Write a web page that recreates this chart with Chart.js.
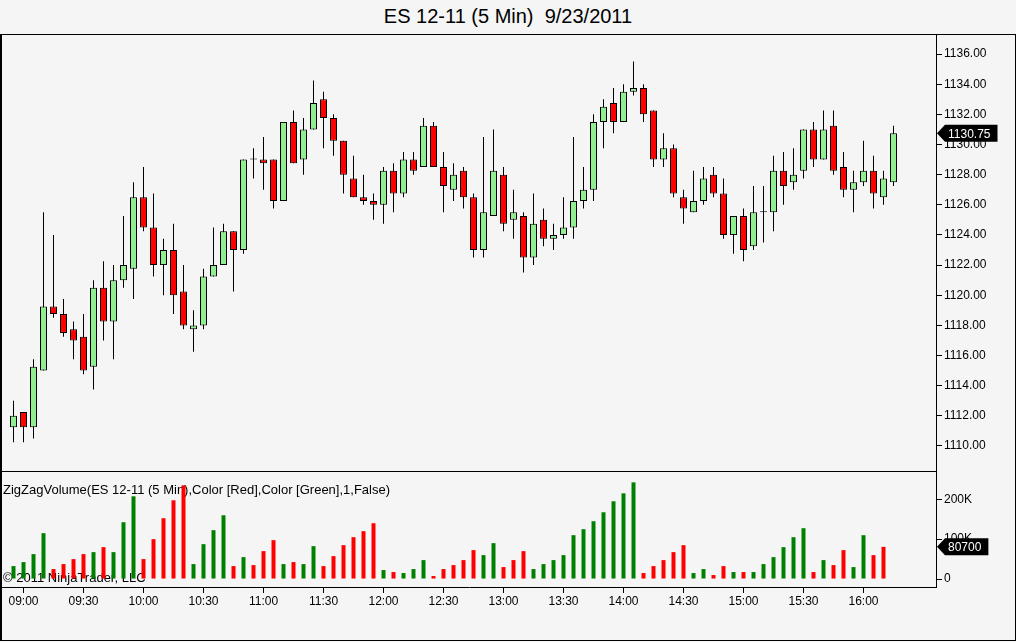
<!DOCTYPE html>
<html>
<head>
<meta charset="utf-8">
<title>ES 12-11 (5 Min) 9/23/2011</title>
<script src="https://cdn.jsdelivr.net/npm/chart.js"></script>
<style>
    body { margin: 0; background: #f5f5f5; }
    #wrap { position: relative; width: 1016px; height: 642px; overflow: hidden; }
    #title { position: absolute; left: 0; top: 5px; width: 1016px; text-align: center; white-space: pre;
             font: 20px 'Liberation Sans', Arial, sans-serif; line-height: 22px; color: #000; }
    #frame { position: absolute; left: 0; top: 34px; width: 1013px; height: 605px;
             border: 1px solid #000; border-left-width: 2px; }
    canvas { position: absolute; left: 0; }
</style>
</head>
<body>
<div id="wrap">
    <div id="title">ES 12-11 (5 Min)  9/23/2011</div>
    <div id="frame"></div>
    <canvas id="priceChart" width="1016" height="437" style="top:34px"></canvas>
    <canvas id="volumeChart" width="1016" height="145" style="top:471px"></canvas>
</div>
<script>
// 5 minute bars, stamped at bar close
let times = [
    '08:55',
    '09:00','09:05','09:10','09:15','09:20','09:25','09:30','09:35','09:40','09:45','09:50','09:55',
    '10:00','10:05','10:10','10:15','10:20','10:25','10:30','10:35','10:40','10:45','10:50','10:55',
    '11:00','11:05','11:10','11:15','11:20','11:25','11:30','11:35','11:40','11:45','11:50','11:55',
    '12:00','12:05','12:10','12:15','12:20','12:25','12:30','12:35','12:40','12:45','12:50','12:55',
    '13:00','13:05','13:10','13:15','13:20','13:25','13:30','13:35','13:40','13:45','13:50','13:55',
    '14:00','14:05','14:10','14:15','14:20','14:25','14:30','14:35','14:40','14:45','14:50','14:55',
    '15:00','15:05','15:10','15:15','15:20','15:25','15:30','15:35','15:40','15:45','15:50','15:55',
    '16:00','16:05','16:10','16:15'
];

let opens = [
    1111.25,1112.25,1111.25,1115.0,1119.25,1118.75,1117.75,1117.25,1115.25,1120.5,
    1118.25,1121.0,1121.75,1126.5,1124.5,1122.0,1123.0,1120.25,1117.75,1118.0,
    1121.25,1122.0,1124.25,1123.0,1129.0,1129.0,1129.0,1126.25,1131.5,1129.0,
    1131.0,1133.0,1131.75,1130.25,1127.75,1126.5,1126.25,1126.0,1128.25,1126.75,
    1129.0,1128.5,1131.25,1128.5,1127.0,1128.25,1126.5,1123.0,1125.25,1128.0,
    1125.0,1125.25,1122.5,1125.0,1123.75,1124.0,1124.5,1126.25,1127.0,1131.5,
    1132.75,1131.5,1133.5,1133.75,1132.25,1129.0,1129.75,1126.5,1125.5,1126.25,
    1128.0,1126.75,1124.0,1125.25,1123.25,1125.5,1125.5,1128.25,1127.5,1128.25,
    1131.0,1129.0,1131.25,1128.5,1127.0,1127.5,1128.25,1126.5,1127.5
];
let highs = [
    1113.0,1112.25,1115.75,1125.5,1124.0,1119.75,1118.25,1118.75,1121.0,1122.25,
    1122.0,1125.25,1127.5,1128.5,1126.75,1123.75,1124.75,1122.0,1119.0,1121.75,
    1124.5,1124.75,1124.25,1129.0,1129.75,1130.5,1129.0,1131.5,1132.25,1131.75,
    1134.25,1133.5,1132.0,1130.25,1129.25,1128.0,1126.75,1128.5,1128.75,1129.5,
    1129.5,1131.75,1131.5,1129.5,1128.75,1128.5,1126.75,1130.5,1131.0,1128.5,
    1127.0,1125.5,1126.75,1125.75,1124.75,1126.5,1130.5,1128.5,1132.0,1133.0,
    1133.75,1134.0,1135.5,1134.0,1132.25,1130.75,1130.0,1127.0,1128.25,1128.5,
    1128.5,1127.75,1125.25,1125.75,1127.25,1127.25,1129.25,1129.5,1129.75,1131.0,
    1131.5,1132.25,1132.25,1129.5,1128.25,1130.25,1129.25,1128.25,1131.25
];
let lows = [
    1110.25,1110.25,1110.5,1115.0,1118.5,1117.25,1115.75,1114.75,1113.75,1117.0,
    1115.75,1120.5,1119.75,1124.25,1121.25,1120.0,1118.75,1117.75,1116.25,1117.75,
    1121.25,1122.0,1120.25,1122.75,1127.75,1127.0,1125.75,1126.25,1128.75,1128.0,
    1131.0,1129.75,1129.25,1126.75,1126.5,1126.0,1125.0,1124.75,1125.5,1126.5,
    1128.0,1128.5,1128.5,1125.5,1126.25,1125.75,1122.5,1122.5,1125.25,1124.25,
    1123.75,1121.5,1122.0,1123.25,1123.0,1123.75,1123.75,1125.75,1126.25,1129.75,
    1130.75,1131.5,1133.25,1131.5,1128.5,1128.5,1126.5,1124.75,1125.5,1126.0,
    1126.5,1123.75,1122.75,1122.25,1123.0,1123.5,1124.25,1126.0,1127.0,1127.75,
    1128.5,1129.0,1128.0,1126.5,1125.5,1127.25,1125.75,1126.0,1127.25
];
let closes = [
    1112.0,1111.25,1115.25,1119.25,1118.75,1117.5,1117.0,1115.0,1120.5,1118.25,
    1121.0,1122.0,1126.5,1124.5,1122.0,1123.0,1120.0,1118.0,1118.0,1121.25,
    1122.0,1124.25,1123.0,1129.0,1129.0,1128.75,1126.25,1131.5,1128.75,1131.0,
    1132.75,1131.75,1130.25,1128.0,1126.5,1126.25,1126.0,1128.25,1126.75,1129.0,
    1128.25,1131.25,1128.5,1127.25,1128.0,1126.5,1123.0,1125.5,1128.25,1124.75,
    1125.5,1122.5,1124.75,1123.75,1124.0,1124.5,1126.25,1127.0,1131.5,1132.5,
    1131.5,1133.5,1133.75,1132.0,1129.0,1129.75,1126.75,1125.75,1126.25,1127.75,
    1126.75,1124.0,1125.25,1123.0,1125.5,1125.5,1128.25,1127.25,1128.0,1131.0,
    1129.0,1131.0,1128.25,1127.0,1127.5,1128.25,1126.75,1127.75,1130.75
];

// ZigZagVolume, plotted on bar close (no value yet for the last bar)
let volumes = [
    32500,42500,62500,115000,25000,37500,50000,62500,67500,80000,
    67500,142500,207500,50000,100000,152500,197500,235000,37500,87500,
    122500,160000,32500,55000,35000,70000,97500,37500,42500,37500,
    82500,32500,57500,85000,105000,120000,140000,22500,17500,15000,
    25000,47500,7500,25000,35000,47500,72500,60000,90000,30000,
    47500,70000,25000,37500,47500,60000,110000,125000,145000,167500,
    195000,215000,242500,15000,32500,47500,67500,85000,15000,25000,
    10000,32500,17500,17500,17500,37500,55000,80000,105000,127500,
    17500,47500,35000,72500,30000,110000,60000,80700
];
// 1 = up swing (green), -1 = down swing (red)
let volumeDir = [
    1,1,1,1,-1,-1,-1,-1,1,-1,
    1,1,1,-1,-1,-1,-1,-1,1,1,
    1,1,-1,1,-1,-1,-1,1,-1,1,
    1,-1,-1,-1,-1,-1,-1,1,-1,1,
    1,1,-1,-1,-1,-1,-1,1,1,-1,
    -1,-1,1,1,1,1,1,1,1,1,
    1,1,1,-1,-1,-1,-1,-1,1,1,
    -1,-1,1,-1,1,1,1,1,1,1,
    -1,1,-1,-1,1,1,-1,-1
];

let priceTicks = [1110, 1112, 1114, 1116, 1118, 1120, 1122, 1124, 1126, 1128, 1130, 1132, 1134, 1136];
let volumeTicks = [0, 100000, 200000];

const FONT = "'Liberation Sans', Arial, sans-serif";
const UP_COLOR = '#90ee90';
const DOWN_COLOR = '#ff0000';

// shared x range so both panels line up bar for bar
const X_MIN = -1.15;
const X_MAX = 92.25;

let timeTicks = [];
for (let i = 0; i < times.length; i++) {
    if (times[i].endsWith(':00') || times[i].endsWith(':30')) timeTicks.push(i);
}

let wickData = [];
let bodyData = [];
let bodyColors = [];
for (let i = 0; i < opens.length; i++) {
    wickData.push({x: i, y: [lows[i], highs[i]]});
    bodyData.push({x: i, y: [opens[i], closes[i]]});
    bodyColors.push(closes[i] >= opens[i] ? UP_COLOR : DOWN_COLOR);
}
let volData = volumes.map((v, i) => ({x: i, y: v}));
let volColors = volumeDir.map(d => d > 0 ? '#008000' : '#ff0000');

// black arrow tag with the last value, sitting on the right axis
const lastValueTag = {
    id: 'lastValueTag',
    afterDraw(chart, args, opts) {
        if (!opts || opts.value === undefined) return;
        let ctx = chart.ctx;
        let y = chart.scales.y.getPixelForValue(opts.value);
        let x0 = chart.chartArea.right + 1;
        ctx.save();
        ctx.font = '12px ' + FONT;
        let w = ctx.measureText(opts.text).width + 18;
        ctx.fillStyle = '#000';
        ctx.beginPath();
        ctx.moveTo(x0, y);
        ctx.lineTo(x0 + 8, y - 8.5);
        ctx.lineTo(x0 + w, y - 8.5);
        ctx.lineTo(x0 + w, y + 8.5);
        ctx.lineTo(x0 + 8, y + 8.5);
        ctx.closePath();
        ctx.fill();
        ctx.fillStyle = '#fff';
        ctx.textAlign = 'left';
        ctx.textBaseline = 'middle';
        ctx.fillText(opts.text, x0 + 11, y + 1);
        ctx.restore();
    }
};

// indicator caption + copyright, drawn under the volume bars
const panelText = {
    id: 'panelText',
    beforeDatasetsDraw(chart) {
        let ctx = chart.ctx;
        ctx.save();
        ctx.font = '13px ' + FONT;
        ctx.fillStyle = '#000';
        ctx.textAlign = 'left';
        ctx.textBaseline = 'middle';
        ctx.fillText('ZigZagVolume(ES 12-11 (5 Min),Color [Red],Color [Green],1,False)', 3, 19);
        ctx.fillText('\u00a9 2011 NinjaTrader, LLC', 3, 107);
        ctx.restore();
    },
    afterDraw(chart) {
        // separator between price and volume panels
        let ctx = chart.ctx;
        ctx.save();
        ctx.strokeStyle = '#000';
        ctx.lineWidth = 1;
        ctx.beginPath();
        ctx.moveTo(0, 0.5);
        ctx.lineTo(chart.chartArea.right, 0.5);
        ctx.stroke();
        ctx.restore();
    }
};

function rightAxis(min, max, ticks, fmt) {
    return {
        type: 'linear',
        position: 'right',
        min: min,
        max: max,
        beginAtZero: false,
        afterBuildTicks: (scale) => { scale.ticks = ticks.map(v => ({value: v})); },
        afterFit: (scale) => { scale.width = 80; scale.paddingTop = 0; scale.paddingBottom = 0; },
        grid: { drawOnChartArea: false, drawTicks: true, tickLength: 6, color: '#000' },
        border: { display: true, color: '#000', width: 1 },
        ticks: { padding: 2, color: '#000', font: { family: FONT, size: 12 }, callback: fmt }
    };
}

let commonOptions = {
    responsive: false,
    animation: false,
    devicePixelRatio: 1,
    events: [],
    layout: { padding: { left: 2, right: 0, top: 0, bottom: 0 } },
    plugins: { legend: { display: false }, tooltip: { enabled: false } }
};

let priceChart = new Chart(document.getElementById('priceChart').getContext('2d'), {
    type: 'bar',
    data: {
        datasets: [{
            label: 'body',
            data: bodyData,
            backgroundColor: bodyColors,
            borderColor: '#000',
            borderWidth: 1,
            borderSkipped: false,
            inflateAmount: 0,
            barThickness: 7,
            minBarLength: 1,
            grouped: false,
            order: 0
        }, {
            label: 'wick',
            data: wickData,
            backgroundColor: '#000',
            borderWidth: 0,
            inflateAmount: 0,
            barThickness: 1,
            grouped: false,
            order: 1
        }]
    },
    options: Object.assign({}, commonOptions, {
        plugins: Object.assign({}, commonOptions.plugins, {
            lastValueTag: { value: closes[closes.length - 1], text: closes[closes.length - 1].toFixed(2) }
        }),
        scales: {
            x: { type: 'linear', min: X_MIN, max: X_MAX, display: false, offset: false, grid: { offset: false } },
            y: rightAxis(1108.34, 1137.33, priceTicks, v => v.toFixed(2))
        }
    }),
    plugins: [lastValueTag]
});

let lastVol = volumes[volumes.length - 1];
let volumeChart = new Chart(document.getElementById('volumeChart').getContext('2d'), {
    type: 'bar',
    data: {
        datasets: [{
            label: 'ZigZagVolume',
            data: volData,
            backgroundColor: volColors,
            borderWidth: 0,
            inflateAmount: 0,
            barThickness: 4,
            grouped: false
        }]
    },
    options: Object.assign({}, commonOptions, {
        plugins: Object.assign({}, commonOptions.plugins, {
            lastValueTag: { value: lastVol, text: String(lastVol) }
        }),
        scales: {
            x: {
                type: 'linear',
                position: 'bottom',
                min: X_MIN,
                max: X_MAX,
                offset: false,
                afterBuildTicks: (scale) => { scale.ticks = timeTicks.map(i => ({value: i})); },
                afterFit: (scale) => { scale.height = 29; scale.paddingLeft = 0; scale.paddingRight = 0; },
                grid: { drawOnChartArea: false, drawTicks: true, tickLength: 6, color: '#000', offset: false },
                border: { display: true, color: '#000', width: 1 },
                ticks: { autoSkip: false, maxRotation: 0, padding: 1, color: '#000',
                         font: { family: FONT, size: 12 }, callback: v => times[v] }
            },
            y: rightAxis(-20000, 271000, volumeTicks, v => v === 0 ? '0' : (v / 1000) + 'K')
        }
    }),
    plugins: [panelText, lastValueTag]
});
</script>
</body>
</html>
